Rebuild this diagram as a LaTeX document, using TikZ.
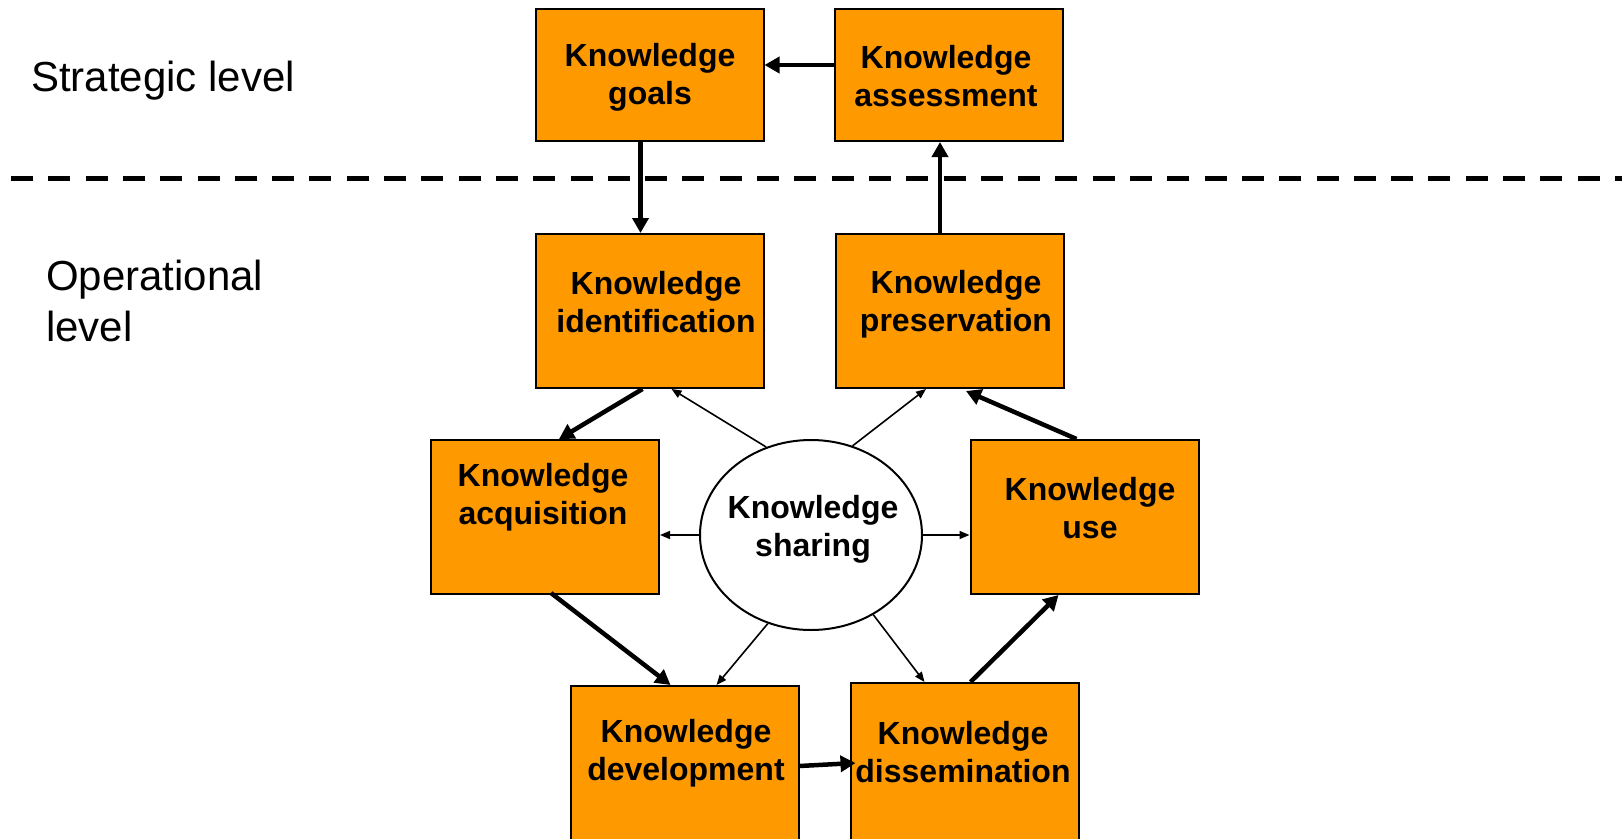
\documentclass[tikz,border=0pt]{standalone}
\usepackage{fontspec}
\setmainfont{Liberation Sans}
\usetikzlibrary{arrows.meta,shapes.geometric}
\definecolor{kmorange}{RGB}{255,153,0}
\begin{document}
\begin{tikzpicture}[x=1pt,y=-1pt,
  box/.style={draw=black, line width=2pt, fill=kmorange, rectangle, minimum width=228pt, minimum height=#1, inner sep=0pt},
  box/.default=154pt,
  lbl/.style={font=\fontsize{32}{38}\selectfont\bfseries, align=center, inner sep=0pt},
  lvl/.style={font=\fontsize{42}{51}\selectfont, align=left, inner sep=0pt, anchor=base west},
  flow/.style={line width=4.5pt, -{Triangle[length=15pt,width=16pt]}},
  link/.style={line width=4.5pt, -{Triangle[length=15pt,width=16pt]}},
  share/.style={line width=1.6pt, -{Triangle[length=10pt,width=8pt]}},
  sep/.style={line width=5pt, dash pattern=on 22pt off 15.3pt}
]
\useasboundingbox (0,0) rectangle (1622,838);
\clip (0,0) rectangle (1622,838);

% separator
\coordinate (sepL) at (11,178);
\coordinate (sepR) at (1622,178);
\draw[sep] (sepL) -- (sepR);

% level labels
\node[lvl] (strat) at (31,91) {Strategic level};
\node[lvl] (oper) at (46,341) {Operational\\level};

% boxes
\node[box=132pt] (goals) at (649.5,75) {};
\node[box=132pt] (ass) at (949,75) {};
\node[box] (ident) at (649.5,311) {};
\node[box] (pres) at (950,311) {};
\node[box] (acq) at (545,517) {};
\node[box] (use) at (1084.5,517) {};
\node[box=170pt] (dev) at (684.5,771) {};
\node[box=170pt] (diss) at (964.5,768) {};
\node[draw=black, line width=2pt, fill=white, ellipse, minimum width=222pt, minimum height=190pt, inner sep=0pt] (ks) at (811,535) {};

% texts
\node[lbl] (goalsT) at (650,77) {Knowledge\\goals};
\node[lbl] (assT) at (946,76) {Knowledge\\assessment};
\node[lbl] (identT) at (656,302) {Knowledge\\identification};
\node[lbl] (presT) at (956,304) {Knowledge\\preservation};
\node[lbl] (acqT) at (543,497) {Knowledge\\acquisition};
\node[lbl] (useT) at (1090,508) {Knowledge\\use};
\node[lbl] (devT) at (686,753) {Knowledge\\development};
\node[lbl] (dissT) at (963,752) {Knowledge\\dissemination};
\node[lbl] (ksT) at (813,529) {Knowledge\\sharing};

% strategic links
\draw[link] ([yshift=10pt]ass.west) -- ([yshift=10pt]goals.east);
\draw[link] ([xshift=-9pt]goals.south) -- ([xshift=-9pt]ident.north);
\draw[link] ([xshift=-10pt]pres.north) -- ([xshift=-9pt]ass.south);

% operational cycle
\draw[flow] ([xshift=-7pt]ident.south) -- ([xshift=14pt]acq.north);
\draw[flow] ([xshift=6pt,yshift=2pt]acq.south) -- ([xshift=-14pt]dev.north);
\draw[flow] ([yshift=5pt]dev.east) -- ([xshift=6pt,yshift=5pt]diss.west);
\draw[flow] ([xshift=6pt]diss.north) -- ([xshift=-26pt]use.south);
\draw[flow] ([xshift=-8pt]use.north) -- ([xshift=16pt,yshift=-2pt]pres.south);

% sharing links
\draw[share] (ks.117) -- ([xshift=22pt]ident.south);
\draw[share] (ks.65) -- ([xshift=-24pt]pres.south);
\draw[share] (ks.west) -- ([yshift=-18pt]acq.east);
\draw[share] (ks.east) -- ([yshift=-18pt]use.west);
\draw[share] (ks.244) -- ([xshift=32pt]dev.north);
\draw[share] (ks.308) -- ([xshift=-40pt]diss.north);
\end{tikzpicture}
\end{document}
